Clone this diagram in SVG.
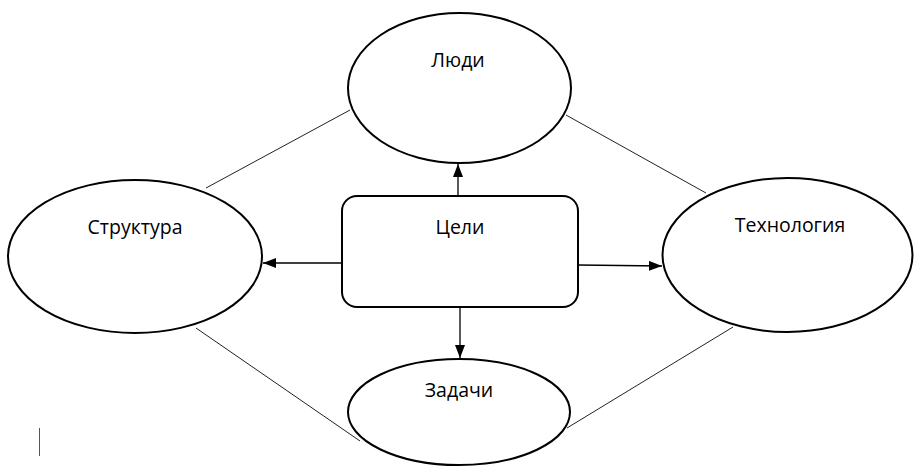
<svg xmlns="http://www.w3.org/2000/svg" width="914" height="467" viewBox="0 0 914 467">
<defs>
<style>
.node{fill:#fff;stroke:#000;stroke-width:2}
.lbl{font-family:"Open Sans","Liberation Sans",sans-serif;font-size:19.5px;fill:#000;text-anchor:middle}
.link{stroke:#222;stroke-width:1;fill:none}
.arr{stroke:#000;stroke-width:1.3;fill:none;marker-end:url(#ah)}
</style>
<marker id="ah" markerWidth="13" markerHeight="10" refX="13" refY="5" orient="auto" markerUnits="userSpaceOnUse">
<path d="M0,0 L13,5 L0,10 Z" fill="#000"/>
</marker>
</defs>
<rect width="914" height="467" fill="#fff"/>
<g id="connectors">
<line class="link" x1="206" y1="188" x2="350" y2="110"/>
<line class="link" x1="566" y1="115" x2="706" y2="193"/>
<line class="link" x1="196" y1="328" x2="360" y2="441"/>
<line class="link" x1="733" y1="327" x2="567" y2="428"/>
<line class="arr" x1="458" y1="195" x2="458" y2="164"/>
<line class="arr" x1="342" y1="263" x2="263" y2="263"/>
<line class="arr" x1="578" y1="265" x2="662" y2="266"/>
<line class="arr" x1="460" y1="308" x2="460" y2="358"/>
</g>
<g id="goals">
<rect class="node" x="342" y="196" width="236" height="111" rx="15"/>
<text class="lbl" x="460" y="234">Цели</text>
</g>
<g id="people">
<ellipse class="node" cx="459.5" cy="88" rx="111.5" ry="75"/>
<text class="lbl" x="458" y="67">Люди</text>
</g>
<g id="structure">
<ellipse class="node" cx="135" cy="256.5" rx="127" ry="76.5"/>
<text class="lbl" x="135" y="234">Структура</text>
</g>
<g id="technology">
<ellipse class="node" cx="787.5" cy="255" rx="125" ry="77"/>
<text class="lbl" x="790" y="232">Технология</text>
</g>
<g id="tasks">
<ellipse class="node" cx="459" cy="412" rx="111" ry="53"/>
<text class="lbl" x="459" y="397">Задачи</text>
</g>
<line x1="39.5" y1="428" x2="39.5" y2="456" stroke="#555" stroke-width="1"/>
</svg>
